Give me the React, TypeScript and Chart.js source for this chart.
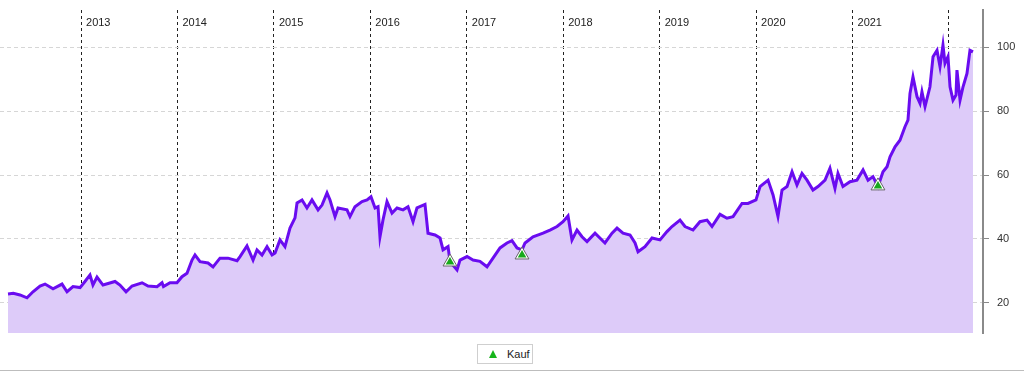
import React, { useEffect, useRef } from "react";
import { Chart, registerables } from "chart.js";

Chart.register(...registerables);

// decimal years
const times = [
  2012.243, 2012.298, 2012.367, 2012.44, 2012.502, 2012.575, 2012.627, 2012.71, 2012.803, 2012.855,
  2012.917, 2012.99, 2013.041, 2013.093, 2013.124, 2013.166, 2013.228, 2013.353, 2013.404, 2013.467,
  2013.529, 2013.633, 2013.695, 2013.788, 2013.84, 2013.855, 2013.923, 2013.995, 2014.047, 2014.099,
  2014.151, 2014.182, 2014.234, 2014.317, 2014.369, 2014.441, 2014.524, 2014.618, 2014.649, 2014.721,
  2014.784, 2014.825, 2014.877, 2014.929, 2014.981, 2015.012, 2015.063, 2015.115, 2015.167, 2015.219,
  2015.24, 2015.292, 2015.343, 2015.395, 2015.458, 2015.499, 2015.551, 2015.582, 2015.634, 2015.665,
  2015.758, 2015.789, 2015.841, 2015.914, 2015.966, 2016.007, 2016.049, 2016.08, 2016.1, 2016.131,
  2016.173, 2016.225, 2016.277, 2016.339, 2016.391, 2016.443, 2016.484, 2016.567, 2016.598, 2016.671,
  2016.723, 2016.754, 2016.806, 2016.826, 2016.899, 2016.93, 2017.003, 2017.065, 2017.137, 2017.21,
  2017.272, 2017.345, 2017.417, 2017.469, 2017.521, 2017.573, 2017.604, 2017.687, 2017.791, 2017.863,
  2017.936, 2017.998, 2018.05, 2018.091, 2018.143, 2018.195, 2018.247, 2018.33, 2018.433, 2018.506,
  2018.558, 2018.62, 2018.693, 2018.745, 2018.776, 2018.848, 2018.921, 2019.004, 2019.076, 2019.128,
  2019.211, 2019.263, 2019.346, 2019.418, 2019.491, 2019.543, 2019.626, 2019.698, 2019.761, 2019.854,
  2019.916, 2019.999, 2020.041, 2020.124, 2020.176, 2020.227, 2020.269, 2020.321, 2020.373, 2020.424,
  2020.476, 2020.528, 2020.59, 2020.642, 2020.715, 2020.766, 2020.818, 2020.849, 2020.901, 2020.974,
  2021.046, 2021.109, 2021.161, 2021.212, 2021.264, 2021.316, 2021.358, 2021.389, 2021.441, 2021.492,
  2021.544, 2021.575, 2021.596, 2021.627, 2021.669, 2021.7, 2021.72, 2021.752, 2021.803, 2021.835,
  2021.876, 2021.907, 2021.938, 2021.959, 2021.99, 2022.011, 2022.042, 2022.073, 2022.083, 2022.115,
  2022.146, 2022.187, 2022.218, 2022.249,
];

const prices = [
  22.8, 23.0, 22.5, 21.6, 23.5, 25.3, 25.9, 24.4, 25.9, 23.5,
  25.1, 24.8, 26.7, 28.75, 25.6, 28.1, 25.6, 26.7, 25.6, 23.5,
  25.3, 26.3, 25.3, 25.1, 26.3, 25.1, 26.3, 26.3, 28.2, 29.3,
  33.4, 35.0, 32.9, 32.5, 31.25, 34.0, 34.0, 33.2, 34.5, 37.8,
  33.4, 36.6, 35.0, 37.6, 35.0, 35.6, 39.7, 37.6, 43.4, 46.6,
  51.25, 52.2, 49.7, 52.2, 49.1, 50.6, 54.4, 52.2, 47.0, 49.7,
  49.1, 47.0, 50.1, 51.7, 52.2, 53.2, 49.7, 50.1, 40.7, 45.9,
  51.7, 48.1, 49.7, 49.1, 50.1, 45.4, 49.7, 50.8, 41.8, 41.25,
  40.3, 36.6, 37.6, 32.9, 30.3, 33.4, 34.5, 33.4, 33.0, 31.3,
  34.0, 37.2, 38.75, 39.5, 37.2, 36.6, 38.75, 40.7, 41.8, 42.8,
  43.9, 45.4, 47.2, 39.7, 42.8, 40.7, 39.2, 41.8, 38.75, 41.8,
  43.4, 41.8, 41.25, 38.75, 36.0, 37.6, 40.3, 39.7, 42.3, 43.9,
  45.9, 43.9, 42.8, 45.4, 45.9, 43.9, 47.7, 46.5, 47.0, 51.1,
  51.1, 52.2, 56.4, 58.4, 53.75, 47.0, 55.3, 56.4, 61.0, 56.9,
  60.5, 58.4, 55.3, 56.4, 58.4, 62.1, 55.8, 60.5, 56.4, 57.9,
  58.4, 61.6, 58.4, 59.5, 56.4, 61.0, 62.6, 65.7, 68.8, 70.9,
  75.1, 77.2, 85.5, 90.7, 84.5, 82.4, 86.0, 81.4, 87.6, 97.0,
  99.0, 93.9, 100.6, 94.9, 97.0, 87.6, 83.4, 85.0, 92.8, 83.4,
  87.6, 91.8, 99.0, 98.5,
];

const buyTimes = [2016.826, 2017.573, 2021.264];
const buyPrices = [32.8, 35.0, 56.6];

const yearTicks = [2013, 2014, 2015, 2016, 2017, 2018, 2019, 2020, 2021, 2022];
const yearLabels = ["2013", "2014", "2015", "2016", "2017", "2018", "2019", "2020", "2021"];
const yTicks = [20, 40, 60, 80, 100];
const legendLabel = "Kauf";

const FONT = '"Liberation Sans", Arial, Helvetica, sans-serif';

const yearLabelPlugin = {
  id: "yearLabels",
  afterDatasetsDraw(chart: any) {
    const { ctx, chartArea, scales } = chart;
    const x = scales.x;
    ctx.save();
    ctx.font = `11px ${FONT}`;
    ctx.fillStyle = "#222";
    ctx.textBaseline = "middle";
    ctx.textAlign = "left";
    yearLabels.forEach((l, i) => {
      ctx.fillText(l, x.getPixelForValue(yearTicks[i]) + 5, chartArea.top + 12.5);
    });
    ctx.restore();
  },
};

export default function App() {
  const ref = useRef<HTMLCanvasElement | null>(null);

  useEffect(() => {
    document.body.style.margin = "0";
    if (!ref.current) return;
    const chart = new Chart(ref.current, {
      type: "line",
      data: {
        datasets: [
          {
            label: legendLabel + "-inner",
            data: buyTimes.map((t, i) => ({ x: t, y: buyPrices[i] })),
            showLine: false,
            pointStyle: "triangle",
            pointRadius: 5,
            pointBackgroundColor: "#17a91b",
            pointBorderWidth: 0,
            order: 0,
          } as any,
          {
            label: legendLabel,
            data: buyTimes.map((t, i) => ({ x: t, y: buyPrices[i] })),
            showLine: false,
            pointStyle: "triangle",
            pointRadius: 8,
            pointBackgroundColor: "#ffffff",
            pointBorderColor: "#666666",
            pointBorderWidth: 1,
            order: 1,
          } as any,
          {
            label: "Kurs",
            data: times.map((t, i) => ({ x: t, y: prices[i] })),
            borderColor: "#6a0cf0",
            borderWidth: 3,
            backgroundColor: "#ddcbf9",
            fill: "start",
            pointRadius: 0,
            tension: 0,
            order: 2,
          } as any,
        ],
      },
      options: {
        animation: false,
        responsive: true,
        maintainAspectRatio: false,
        events: [],
        layout: { autoPadding: false, padding: { top: 10, left: 0, right: 0, bottom: 3 } },
        plugins: {
          legend: { display: false },
          tooltip: { enabled: false },
        },
        scales: {
          x: {
            type: "linear",
            min: 2012.16,
            max: 2022.353,
            afterBuildTicks: (s: any) => {
              s.ticks = yearTicks.map((v) => ({ value: v }));
            },
            afterFit: (s: any) => {
              s.height = 0;
              s.paddingLeft = 0;
              s.paddingRight = 0;
            },
            ticks: { display: false },
            grid: { color: "#222", lineWidth: 1, drawTicks: false },
            border: { display: false, dash: [3, 3] },
          },
          y: {
            type: "linear",
            position: "right",
            min: 10.6,
            max: 111.6,
            afterBuildTicks: (s: any) => {
              s.ticks = yTicks.map((v) => ({ value: v }));
            },
            afterFit: (s: any) => {
              s.width = 41;
              s.paddingTop = 0;
              s.paddingBottom = 0;
            },
            ticks: { padding: 8, color: "#333", font: { family: FONT, size: 11 } },
            grid: {
              color: "#d6d6d6",
              lineWidth: 1,
              drawTicks: true,
              tickLength: 6,
              tickColor: "#888",
              tickWidth: 1,
            },
            border: { display: true, color: "#8a8a8a", width: 2, dash: [4, 3] },
          },
        },
      } as any,
      plugins: [yearLabelPlugin],
    });
    return () => chart.destroy();
  }, []);

  return (
    <div style={{ position: "relative", width: 1024, height: 372, fontFamily: FONT }}>
      <div style={{ position: "absolute", left: 0, top: 0, width: 1024, height: 336 }}>
        <canvas ref={ref} />
      </div>
      <div
        style={{
          position: "absolute",
          left: 477,
          top: 344,
          width: 56,
          height: 20,
          border: "1px solid #cfcfcf",
          boxSizing: "border-box",
          display: "flex",
          alignItems: "center",
          background: "#fff",
        }}
      >
        <div
          style={{
            marginLeft: 11,
            width: 0,
            height: 0,
            borderLeft: "4px solid transparent",
            borderRight: "4px solid transparent",
            borderBottom: "8px solid #17b51b",
          }}
        />
        <span style={{ marginLeft: 10, fontSize: 11, color: "#222" }}>{legendLabel}</span>
      </div>
      <div style={{ position: "absolute", left: 0, top: 370, width: 1024, height: 1, background: "#bdbdbd" }} />
    </div>
  );
}
